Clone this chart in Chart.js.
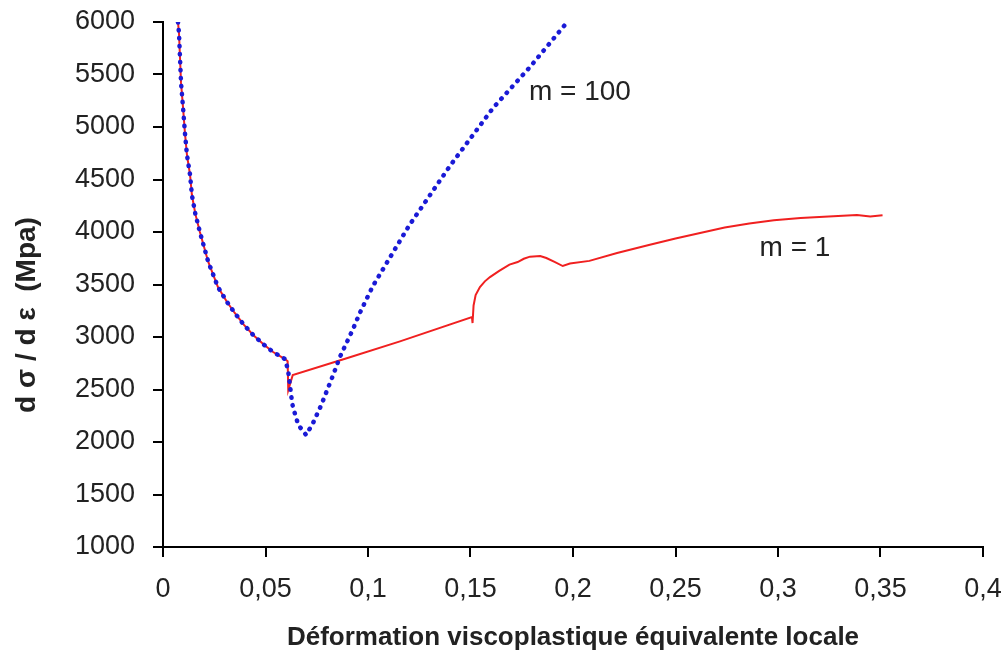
<!DOCTYPE html>
<html>
<head>
<meta charset="utf-8">
<script src="https://cdn.jsdelivr.net/npm/chart.js@4/dist/chart.umd.min.js"></script>
<style>
  body { margin: 0; background: #fff; }
  #wrap { width: 1005px; height: 660px; }
</style>
</head>
<body>
<div id="wrap"><canvas id="chart" width="1005" height="660"></canvas></div>
<script>
// m = 1 (red solid)
const m1X = [0.0073, 0.0078, 0.0083, 0.0088, 0.0098, 0.0107, 0.0117, 0.0132, 0.0141, 0.0158, 0.018, 0.022, 0.0268, 0.031, 0.035,
  0.0395, 0.044, 0.049, 0.0537, 0.0595, 0.0608, 0.0611, 0.0633, 0.09, 0.1156, 0.1507, 0.151, 0.1515, 0.1525, 0.1546, 0.157, 0.1595,
  0.164, 0.169, 0.173, 0.176, 0.179, 0.184, 0.187, 0.191, 0.195, 0.1985, 0.208, 0.2215, 0.237, 0.25, 0.262, 0.274, 0.286,
  0.298, 0.311, 0.327, 0.3385, 0.345, 0.351];
const m1Y = [6000, 5895, 5657, 5420, 5180, 4943, 4733, 4543, 4352, 4170, 4000, 3720, 3476, 3340, 3229,
  3115, 3019, 2930, 2857, 2790, 2770, 2495, 2638, 2800, 2958, 3190, 3133, 3300, 3400, 3476, 3530, 3571,
  3630, 3690, 3714, 3745, 3765, 3771, 3752, 3715, 3676, 3700, 3725, 3800, 3876, 3938, 3990, 4042, 4082,
  4112, 4133, 4150, 4162, 4148, 4160];

// m = 100 (blue dotted)
const m100X = [0.0073, 0.0078, 0.0083, 0.0088, 0.0098, 0.0107, 0.0117, 0.0132, 0.0141, 0.0158, 0.018, 0.022, 0.0268, 0.031, 0.035,
  0.0395, 0.044, 0.049, 0.0537, 0.0595, 0.061, 0.063, 0.0634, 0.066, 0.0698, 0.0732, 0.077, 0.083, 0.0863, 0.0927, 0.096,
  0.1024, 0.12, 0.14, 0.161, 0.179, 0.196];
const m100Y = [6000, 5895, 5657, 5420, 5180, 4943, 4733, 4543, 4352, 4170, 4000, 3720, 3476, 3340, 3229,
  3115, 3019, 2930, 2857, 2790, 2686, 2371, 2333, 2162, 2067, 2181, 2343, 2638, 2810, 3076, 3229,
  3486, 4060, 4630, 5181, 5571, 5971];

const toPoints = (xs, ys) => xs.map((x, i) => ({ x: x, y: ys[i] }));
const fmt = v => String(Math.round(v * 100) / 100).replace('.', ',');

const tickFont = { family: 'Liberation Sans', size: 27 };
const textColor = '#222';

const labelsPlugin = {
  id: 'labels',
  afterDraw(chart) {
    const ctx = chart.ctx;
    const xs = chart.scales.x, ys = chart.scales.y;
    ctx.save();
    ctx.fillStyle = textColor;
    ctx.font = '28px "Liberation Sans"';
    ctx.textAlign = 'center';
    ctx.textBaseline = 'middle';
    ctx.fillText('m = 100', xs.getPixelForValue(0.2034), ys.getPixelForValue(5333));
    ctx.fillText('m = 1', xs.getPixelForValue(0.3083), ys.getPixelForValue(3848));
    // y axis title
    ctx.translate(27, 315);
    ctx.rotate(-Math.PI / 2);
    ctx.font = 'bold 28px "Liberation Sans"';
    ctx.fillText('d σ / d ε  (Mpa)', 0, 0);
    ctx.restore();
  }
};

new Chart(document.getElementById('chart').getContext('2d'), {
  type: 'scatter',
  data: {
    datasets: [
      {
        label: 'm = 100',
        data: toPoints(m100X, m100Y),
        showLine: true,
        borderColor: '#1a1ad6',
        borderWidth: 4.5,
        borderDash: [0.5, 7.5],
        borderCapStyle: 'round',
        pointRadius: 0,
        tension: 0
      },
      {
        label: 'm = 1',
        data: toPoints(m1X, m1Y),
        showLine: true,
        borderColor: '#f02020',
        borderWidth: 2,
        pointRadius: 0,
        tension: 0
      }
    ]
  },
  options: {
    responsive: false,
    animation: false,
    layout: { padding: { top: 22, right: 22, left: 0, bottom: 0 } },
    plugins: { legend: { display: false }, tooltip: { enabled: false } },
    scales: {
      x: {
        type: 'linear',
        min: 0,
        max: 0.4,
        afterFit: s => { s.height = 113; s.paddingLeft = 0; s.paddingRight = 0; },
        ticks: { stepSize: 0.05, font: tickFont, color: textColor, padding: 16, callback: v => fmt(v) },
        grid: { drawOnChartArea: false, tickLength: 10, color: '#000', lineWidth: 2 },
        border: { color: '#000', width: 2 },
        title: {
          display: true,
          text: 'Déformation viscoplastique équivalente locale',
          color: textColor,
          font: { family: 'Liberation Sans', size: 26, weight: 'bold' },
          padding: { top: 0, bottom: 7 }
        }
      },
      y: {
        min: 1000,
        max: 6000,
        afterFit: s => { s.width = 163; s.paddingTop = 0; s.paddingBottom = 0; },
        ticks: { stepSize: 500, font: tickFont, color: textColor, padding: 18, callback: v => String(v) },
        grid: { drawOnChartArea: false, tickLength: 10, color: '#000', lineWidth: 2 },
        border: { color: '#000', width: 2 }
      }
    }
  },
  plugins: [labelsPlugin]
});
</script>
</body>
</html>
